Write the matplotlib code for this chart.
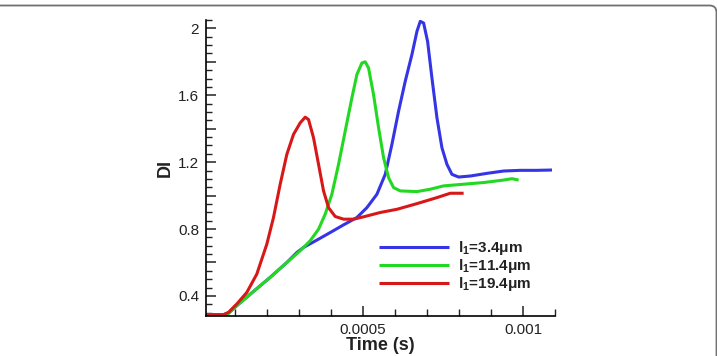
import matplotlib
matplotlib.use("Agg")
import matplotlib.pyplot as plt
from matplotlib.ticker import MultipleLocator, FuncFormatter
from matplotlib.patches import FancyBboxPatch

plt.rcParams['font.family'] = ['Liberation Sans', 'DejaVu Sans']
plt.rcParams['mathtext.fontset'] = 'custom'
plt.rcParams['mathtext.bf'] = 'Liberation Sans:bold'
plt.rcParams['mathtext.rm'] = 'Liberation Sans'

# ---- data ----
labels = [r'$\mathbf{l_1}$=3.4μm', r'$\mathbf{l_1}$=11.4μm', r'$\mathbf{l_1}$=19.4μm']
colors = ['#3535e6', '#22d822', '#d81818']

# time values in units of 1e-4 s
t_blue_e4 = [0.1, 0.646, 0.802, 1.0625, 1.583, 2.104, 2.625, 2.938, 3.146, 3.563, 3.979,
             4.396, 4.813, 5.125, 5.438, 5.698, 5.906, 6.115, 6.323, 6.531, 6.688,
             6.792, 6.896, 7.021, 7.156, 7.313, 7.469, 7.625, 7.781, 7.99, 8.354,
             8.875, 9.396, 9.917, 10.438, 10.906]
di_blue = [0.288, 0.288, 0.296, 0.342, 0.427, 0.511, 0.600, 0.660, 0.690, 0.734, 0.779,
           0.825, 0.869, 0.928, 1.008, 1.127, 1.306, 1.505, 1.684, 1.843, 1.982,
           2.042, 2.032, 1.922, 1.704, 1.465, 1.286, 1.187, 1.127, 1.111, 1.117,
           1.133, 1.147, 1.151, 1.151, 1.153]

t_green_e4 = [0.1, 0.646, 0.802, 1.0625, 1.583, 2.104, 2.625, 3.042, 3.354, 3.615, 3.823,
              4.031, 4.24, 4.448, 4.656, 4.813, 4.969, 5.073, 5.177, 5.333, 5.49,
              5.646, 5.802, 5.958, 6.167, 6.688, 7.104, 7.521, 8.146, 8.771, 9.396,
              9.656, 9.865]
di_green = [0.288, 0.288, 0.296, 0.342, 0.427, 0.511, 0.600, 0.670, 0.730, 0.799, 0.889,
            1.008, 1.187, 1.386, 1.584, 1.724, 1.793, 1.800, 1.763, 1.604, 1.406,
            1.227, 1.107, 1.048, 1.028, 1.024, 1.038, 1.058, 1.068, 1.078, 1.093,
            1.101, 1.093]

t_red_e4 = [0.1, 0.646, 0.802, 1.0625, 1.375, 1.6875, 2.0, 2.208, 2.417, 2.625, 2.833,
            3.042, 3.198, 3.302, 3.458, 3.615, 3.771, 3.927, 4.135, 4.396, 4.708,
            5.021, 5.542, 6.063, 6.688, 7.313, 7.729, 8.146]
di_red = [0.288, 0.288, 0.302, 0.352, 0.421, 0.531, 0.710, 0.869, 1.068, 1.247, 1.366,
          1.435, 1.469, 1.455, 1.346, 1.187, 1.028, 0.928, 0.875, 0.859, 0.859,
          0.873, 0.899, 0.918, 0.952, 0.988, 1.014, 1.014]

fig = plt.figure(figsize=(7.17, 3.56), dpi=100)
ax = fig.add_axes([206/717, 40/356, (555-206)/717, (336-40)/356])

for t, d, c, lab in zip([t_blue_e4, t_green_e4, t_red_e4], [di_blue, di_green, di_red], colors, labels):
    ax.plot([v * 1e-4 for v in t], d, color=c, lw=2.2, label=lab,
            solid_joinstyle='round', solid_capstyle='butt')

ax.set_xlim(0.00001, 0.0011)
ax.set_ylim(0.28, 2.05)

ax.spines['top'].set_visible(False)
ax.spines['right'].set_visible(False)
ax.spines['left'].set_linewidth(1.2)
ax.spines['bottom'].set_linewidth(1.2)

ax.xaxis.set_major_locator(MultipleLocator(0.0005))
ax.xaxis.set_minor_locator(MultipleLocator(0.0001))
ax.xaxis.set_major_formatter(FuncFormatter(lambda v, p: f'{v:g}'))
ax.yaxis.set_major_locator(MultipleLocator(0.2))
ax.yaxis.set_minor_locator(MultipleLocator(0.05))

def yfmt(v, p):
    k = v / 0.4
    if abs(k - round(k)) < 1e-6:
        return '2' if abs(v - 2) < 1e-9 else f'{v:.1f}'
    return ''
ax.yaxis.set_major_formatter(FuncFormatter(yfmt))

ax.tick_params(axis='both', which='major', direction='in', length=7, width=1.1,
               labelsize=11, pad=5, color='#222222', labelcolor='#222222')
ax.tick_params(axis='both', which='minor', direction='in', length=4, width=1.0, color='#222222')
ax.tick_params(axis='x', which='minor', length=5)

ax.set_xlabel('Time (s)', fontsize=13, fontweight='bold', labelpad=0, color='#222222')
ax.set_ylabel('DI', fontsize=13, fontweight='bold', labelpad=3, color='#222222')

leg = ax.legend(loc='upper left', bbox_to_anchor=((379 - 206) / 349, (316 - 239) / 296),
                frameon=False, handlelength=4.6, handletextpad=0.6, labelspacing=0.0,
                borderaxespad=0, borderpad=0,
                prop={'weight': 'bold', 'size': 11})
for txt in leg.get_texts():
    txt.set_color('#222222')

# outer rounded frame (left/bottom edges fall outside the canvas)
frame = FancyBboxPatch((-0.06, -0.3), 7.165 + 0.06, 3.505 + 0.3,
                       boxstyle='round,pad=0,rounding_size=0.07',
                       transform=fig.dpi_scale_trans, fill=False, edgecolor='#707070',
                       lw=1.3, clip_on=False)
fig.patches.append(frame)

fig.savefig('out.png', dpi=100)
